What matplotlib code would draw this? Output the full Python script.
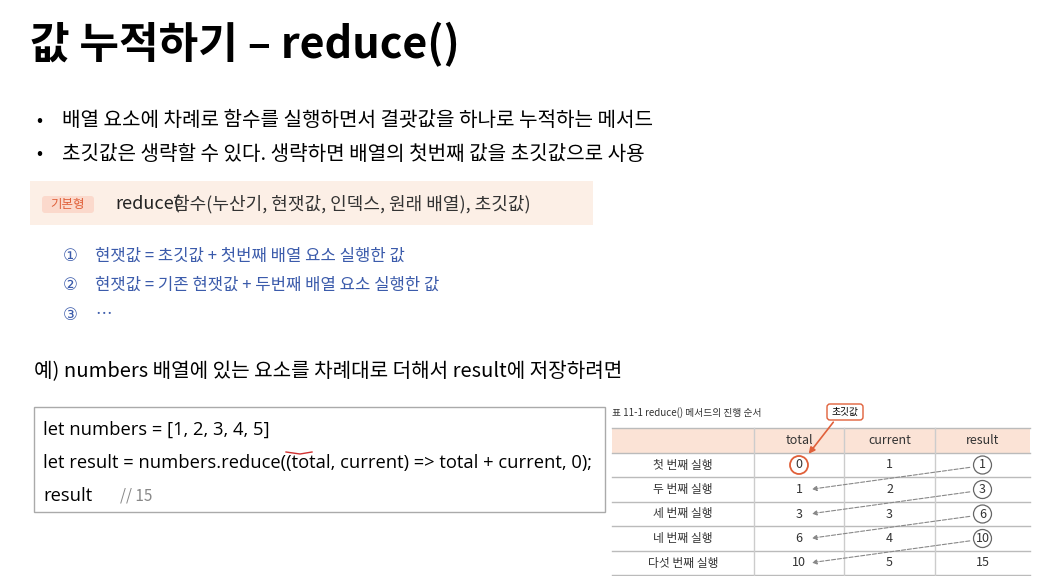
import matplotlib
matplotlib.use("Agg")
import matplotlib.pyplot as plt
from matplotlib.patches import Rectangle, FancyBboxPatch, Ellipse

plt.rcParams['font.family'] = ['Noto Sans CJK KR', 'DejaVu Sans']

title = "값 누적하기 – reduce()"
bullets = ["배열 요소에 차례로 함수를 실행하면서 결괏값을 하나로 누적하는 메서드",
           "초깃값은 생략할 수 있다. 생략하면 배열의 첫번째 값을 초깃값으로 사용"]
steps = ["현잿값 = 초깃값 + 첫번째 배열 요소 실행한 값",
         "현잿값 = 기존 현잿값 + 두번째 배열 요소 실행한 값",
         "…"]
code_lines = ["let numbers = [1, 2, 3, 4, 5]",
              "let result = numbers.reduce((total, current) => total + current, 0);",
              "result"]
row_labels = ["첫 번째 실행", "두 번째 실행", "세 번째 실행", "네 번째 실행", "다섯 번째 실행"]
col_labels = ["total", "current", "result"]
total_vals = [0, 1, 3, 6, 10]
current_vals = [1, 2, 3, 4, 5]
result_vals = [1, 3, 6, 10, 15]

fig = plt.figure(figsize=(10.44, 5.76), dpi=100)
ax = fig.add_axes([0, 0, 1, 1])
ax.set_xlim(0, 1044); ax.set_ylim(576, 0); ax.axis('off')

ax.text(30, 45, title, fontsize=31, fontweight='bold', va='center', ha='left', color='black')
for i, b in enumerate(bullets):
    y = 121 + 33 * i
    ax.text(36, y, "•", fontsize=13, va='center')
    ax.text(62, y, b, fontsize=14.5, va='center')

ax.add_patch(Rectangle((30, 181), 563, 44, color='#fcefe6', lw=0))
ax.add_patch(FancyBboxPatch((42, 196), 52, 17, boxstyle="round,pad=0,rounding_size=3", color='#fbd9cc', lw=0))
ax.text(68, 204.5, "기본형", fontsize=9, color='#e0603a', ha='center', va='center')
ax.text(115, 204, "reduce(", fontsize=13, va='center', color='#222')
ax.text(173, 204, "함수(누산기, 현잿값, 인덱스, 원래 배열), 초깃값)", fontsize=13, va='center',
        color='#333', style='italic')

circ = ["①", "②", "③"]
for i, s in enumerate(steps):
    y = 256 + 29.5 * i
    ax.text(63, y, circ[i], fontsize=12, va='center', color='#3b5bab', family=['DejaVu Sans'])
    ax.text(95, y, s, fontsize=12, va='center', color='#3b5bab')

ax.text(34, 372, "예) numbers 배열에 있는 요소를 차례대로 더해서 result에 저장하려면", fontsize=14.5, va='center')

ax.add_patch(Rectangle((34, 407), 571, 105, fill=False, ec='#aaaaaa', lw=1))
for i, c in enumerate(code_lines):
    ax.text(43, 430 + 33 * i, c, fontsize=13.2, va='center', family=['Open Sans', 'DejaVu Sans'])
ax.text(120, 496, "// 15", fontsize=11, va='center', color='#888', style='italic')
ax.plot([286, 300, 312], [452, 454, 452], color='#d03030', lw=1)

# table
ax.text(612, 413, "표 11-1 reduce() 메서드의 진행 순서", fontsize=7, va='center', color='#333')
xs = [612, 754, 844, 935, 1030]
ys = [428, 453, 477, 502, 526, 551, 575]
ax.add_patch(Rectangle((xs[0], ys[0]), xs[-1] - xs[0], ys[1] - ys[0], color='#fbe3d6', lw=0))
for y in ys:
    ax.plot([xs[0], xs[-1]], [y, y], color='#bbbbbb', lw=1)
for x in xs[1:-1]:
    ax.plot([x, x], [ys[0], ys[-1]], color='#cccccc', lw=1)
for j, c in enumerate(col_labels):
    ax.text((xs[j + 1] + xs[j + 2]) / 2, (ys[0] + ys[1]) / 2, c, fontsize=9, ha='center', va='center', color='#333')
for i in range(5):
    yc = (ys[i + 1] + ys[i + 2]) / 2
    ax.text((xs[0] + xs[1]) / 2, yc, row_labels[i], fontsize=8.5, ha='center', va='center', color='#333')
    ax.text((xs[1] + xs[2]) / 2, yc, str(total_vals[i]), fontsize=9, ha='center', va='center', color='#333')
    ax.text((xs[2] + xs[3]) / 2, yc, str(current_vals[i]), fontsize=9, ha='center', va='center', color='#333')
    ax.text((xs[3] + xs[4]) / 2, yc, str(result_vals[i]), fontsize=9, ha='center', va='center', color='#333')
    if i < 4:
        ax.add_patch(Ellipse(((xs[3] + xs[4]) / 2, yc), 18, 18, fill=False, ec='#666', lw=0.9))
        yn = (ys[i + 2] + ys[i + 3]) / 2
        ax.annotate("", xy=((xs[1] + xs[2]) / 2 + 10, yn), xytext=((xs[3] + xs[4]) / 2 - 10, yc + 2),
                    arrowprops=dict(arrowstyle='-|>', ls='--', color='#888', lw=0.8, mutation_scale=7))
y0 = (ys[1] + ys[2]) / 2
ax.add_patch(Ellipse(((xs[1] + xs[2]) / 2, y0), 18, 18, fill=False, ec='#e0603a', lw=1.3))
ax.add_patch(FancyBboxPatch((827, 404), 36, 16, boxstyle="round,pad=0,rounding_size=3",
                            fc='white', ec='#e0603a', lw=1))
ax.text(845, 412, "초깃값", fontsize=7, ha='center', va='center')
ax.annotate("", xy=(807, 456), xytext=(835, 420),
            arrowprops=dict(arrowstyle='-|>', color='#e0603a', lw=1.2, mutation_scale=9))

fig.savefig("out.png", dpi=100)
